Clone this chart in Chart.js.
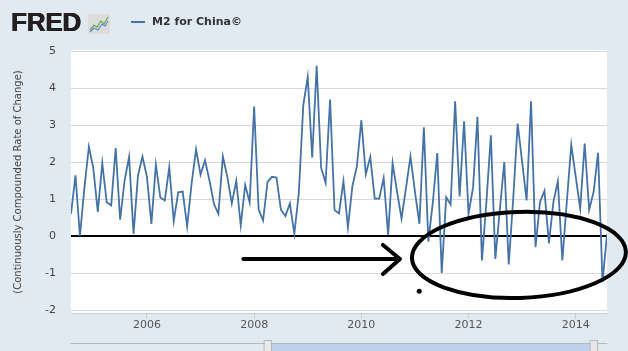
<!DOCTYPE html>
<html>
<head>
<meta charset="utf-8">
<script src="https://cdn.jsdelivr.net/npm/chart.js@4.4.1/dist/chart.umd.min.js"></script>
<style>
  html, body { margin: 0; padding: 0; background: #e1e9f1; }
  #wrap { position: relative; width: 628px; height: 351px; overflow: hidden; }
  #chart { position: absolute; left: 0; top: 0; }
  .logo {
    position: absolute; left: 11px; top: 9px;
    font: bold 26px/26px "Liberation Sans", Arial, sans-serif;
    color: #231f20; letter-spacing: -0.2px;
    text-shadow: 0.6px 0 0 #231f20, -0.3px 0 0 #231f20;
  }
  .icon { position: absolute; left: 88px; top: 14px; width: 22px; height: 20px; }
  .legend-line { position: absolute; left: 131px; top: 21px; width: 14px; height: 2px; background: #4572a7; }
  .legend-text {
    position: absolute; left: 152px; top: 14px;
    font: bold 11px/15px "DejaVu Sans", Verdana, sans-serif; color: #333;
  }
</style>
</head>
<body>
<div id="wrap">
  <canvas id="chart" width="628" height="351"></canvas>
  <div class="logo">FRED</div>
  <svg class="icon" viewBox="0 0 22 20">
    <rect x="0" y="0" width="22" height="20" fill="#dcdcdc"/>
    <polyline points="2,16 6,11 9,13 13,7 16,10 20,3" fill="none" stroke="#6fae5a" stroke-width="1.3"/>
    <polyline points="2,18 6,14 10,16 14,10 17,12 20,7" fill="none" stroke="#5b8bc6" stroke-width="1.1"/>
  </svg>
  <div class="legend-line"></div>
  <div class="legend-text">M2 for China©</div>
</div>
<script>
// M2 for China, continuously compounded rate of change, monthly Aug 2004 - Aug 2014
const startYear = 2004;
const startMonth = 8;
const m2Change = [
  0.6, 1.64, 0.0, 1.3, 2.42, 1.83, 0.65, 1.97, 0.91, 0.83,
  2.38, 0.44, 1.5, 2.14, 0.06, 1.64, 2.15, 1.6, 0.33, 1.93,
  1.04, 0.96, 1.86, 0.4, 1.18, 1.2, 0.26, 1.42, 2.34, 1.66,
  2.05, 1.5, 0.87, 0.6, 2.15, 1.6, 0.88, 1.49, 0.29, 1.38,
  0.91, 3.5, 0.72, 0.42, 1.46, 1.6, 1.58, 0.71, 0.54, 0.88,
  0.06, 1.15, 3.53, 4.3, 2.12, 4.6, 1.84, 1.44, 3.69, 0.7,
  0.61, 1.48, 0.23, 1.35, 1.88, 3.13, 1.67, 2.14, 1.01, 1.01,
  1.57, 0.03, 1.97, 1.2, 0.47, 1.3, 2.15, 1.2, 0.33, 2.94,
  -0.15, 0.9, 2.24, -1.0, 1.05, 0.85, 3.64, 1.07, 3.1, 0.6,
  1.3, 3.22, -0.66, 0.92, 2.72, -0.62, 0.7, 2.0, -0.77, 1.0,
  3.04, 2.0, 0.96, 3.64, -0.3, 0.92, 1.22, -0.2, 0.92, 1.48,
  -0.66, 0.92, 2.47, 1.6, 0.74, 2.5, 0.71, 1.19, 2.25, -1.25,
  0.05
];
const yTicks = [-2, -1, 0, 1, 2, 3, 4, 5];
const xTicks = [2006, 2008, 2010, 2012, 2014];

// month positions as decimal years
const months = m2Change.map((v, i) => startYear + (startMonth - 1 + i) / 12);

// hand drawn marks on the screenshot, in data units
const arrowLine = { from: 2007.8, to: 2010.72, at: -0.62 };
const circleMark = { x: 2012.94, y: -0.51, rx: 107, ry: 43 };
const dotMark = { x: 2011.08, y: -1.49 };

const plotBackground = {
  id: 'plotBackground',
  beforeDraw(chart) {
    const { ctx, chartArea: a } = chart;
    ctx.save();
    ctx.fillStyle = '#ffffff';
    ctx.fillRect(a.left, a.top - 1, a.right - a.left, a.bottom - a.top + 1);
    ctx.restore();
  }
};

const scribbles = {
  id: 'scribbles',
  afterDraw(chart) {
    const { ctx, scales: { x, y } } = chart;
    ctx.save();
    ctx.strokeStyle = '#000';
    ctx.fillStyle = '#000';
    ctx.lineWidth = 4;
    ctx.lineCap = 'round';
    ctx.lineJoin = 'round';

    const ay = y.getPixelForValue(arrowLine.at);
    const ax0 = x.getPixelForValue(arrowLine.from);
    const ax1 = x.getPixelForValue(arrowLine.to);
    ctx.beginPath();
    ctx.moveTo(ax0, ay);
    ctx.lineTo(ax1, ay);
    ctx.moveTo(ax1 - 17, ay - 14);
    ctx.lineTo(ax1, ay);
    ctx.lineTo(ax1 - 17, ay + 15);
    ctx.stroke();

    ctx.beginPath();
    ctx.ellipse(x.getPixelForValue(circleMark.x), y.getPixelForValue(circleMark.y),
      circleMark.rx, circleMark.ry, -0.03, 0, Math.PI * 2);
    ctx.stroke();

    ctx.beginPath();
    ctx.arc(x.getPixelForValue(dotMark.x), y.getPixelForValue(dotMark.y), 2.5, 0, Math.PI * 2);
    ctx.fill();

    // navigator strip at the bottom
    const a = chart.chartArea;
    ctx.lineWidth = 1;
    ctx.fillStyle = 'rgba(180, 203, 234, 0.8)';
    ctx.fillRect(268, 344, 326, 8);
    ctx.strokeStyle = '#b2b9c4';
    ctx.beginPath();
    ctx.moveTo(a.left, 343.5);
    ctx.lineTo(a.right, 343.5);
    ctx.stroke();
    [268, 594].forEach(hx => {
      ctx.fillStyle = '#ebe7e8';
      ctx.fillRect(hx - 3.5, 340.5, 7, 11);
      ctx.strokeRect(hx - 3.5, 340.5, 7, 11);
    });
    ctx.restore();
  }
};

const ctx = document.getElementById('chart').getContext('2d');
const m2Chart = new Chart(ctx, {
  type: 'line',
  data: {
    datasets: [{
      label: 'M2 for China©',
      data: m2Change.map((v, i) => ({ x: months[i], y: v })),
      borderColor: '#4572a7',
      borderWidth: 1.8,
      pointRadius: 0,
      tension: 0,
      fill: false
    }]
  },
  options: {
    responsive: false,
    animation: false,
    devicePixelRatio: 1,
    layout: { padding: { top: 51, right: 21, left: 0, bottom: 0 } },
    plugins: {
      legend: { display: false },
      tooltip: { enabled: false }
    },
    scales: {
      x: {
        type: 'linear',
        min: months[0],
        max: months[months.length - 1],
        afterBuildTicks: s => { s.ticks = xTicks.map(v => ({ value: v })); },
        afterFit: s => { s.height = 38; },
        border: { display: true, color: '#c0d0e0', width: 1 },
        grid: { drawOnChartArea: false, drawTicks: true, tickLength: 6, color: '#c0d0e0' },
        ticks: {
          autoSkip: false,
          maxRotation: 0,
          padding: 0,
          color: '#555',
          font: { family: 'DejaVu Sans', size: 11 },
          callback: v => String(v)
        }
      },
      y: {
        min: -2.08,
        max: 5,
        afterBuildTicks: s => { s.ticks = yTicks.map(v => ({ value: v })); },
        afterFit: s => { s.width = 71; },
        border: { display: false },
        grid: {
          drawTicks: false,
          color: c => c.tick && c.tick.value === 0 ? '#000000' : '#d8d8d8',
          lineWidth: c => c.tick && c.tick.value === 0 ? 2 : 1
        },
        ticks: {
          padding: 15,
          color: '#444',
          font: { family: 'DejaVu Sans', size: 11 }
        },
        title: {
          display: true,
          text: '(Continuously Compounded Rate of Change)',
          color: '#444',
          font: { family: 'DejaVu Sans', size: 10 },
          padding: { top: 12, bottom: 0 }
        }
      }
    }
  },
  plugins: [plotBackground, scribbles]
});
</script>
</body>
</html>
